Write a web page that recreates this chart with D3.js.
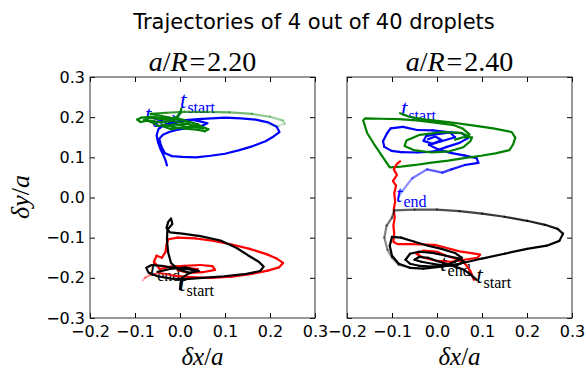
<!DOCTYPE html>
<html><head><meta charset="utf-8">
<script src="https://cdn.jsdelivr.net/npm/d3@7"></script>
<style>body{margin:0;background:#fff}svg{display:block}</style>
</head><body><svg id="c" width="586" height="372"></svg>
<script>
const titleText = "Trajectories of 4 out of 40 droplets";
const panelRatios = ["2.20", "2.40"];
const xTicks = [-0.2, -0.1, 0.0, 0.1, 0.2, 0.3];
const yTicks = [-0.3, -0.2, -0.1, 0.0, 0.1, 0.2, 0.3];

// panel a/R = 2.20
const L_blue = [[0.000,0.213],[-0.003,0.204],[-0.012,0.196],[-0.028,0.199],[-0.042,0.192],[-0.055,0.184],[-0.047,0.177],[-0.030,0.181],[-0.012,0.185],[0.008,0.190],[0.028,0.193],[0.047,0.189],[0.061,0.185],[0.050,0.179],[0.030,0.177],[0.012,0.172],[-0.008,0.168],[-0.024,0.163],[-0.038,0.156],[-0.046,0.146],[-0.043,0.133],[-0.039,0.121],[-0.033,0.110],[-0.018,0.103],[0.005,0.101],[0.035,0.100],[0.068,0.104],[0.100,0.109],[0.132,0.118],[0.162,0.128],[0.190,0.140],[0.208,0.152],[0.221,0.163],[0.215,0.176],[0.196,0.187],[0.168,0.194],[0.135,0.197],[0.100,0.199],[0.070,0.197],[0.040,0.195],[0.012,0.193],[-0.015,0.188],[-0.035,0.181],[-0.048,0.170],[-0.052,0.155],[-0.049,0.138],[-0.044,0.122],[-0.037,0.106],[-0.032,0.092],[-0.029,0.080]];
const L_green = [[0.003,0.222],[0.001,0.210],[-0.008,0.200],[-0.025,0.196],[-0.045,0.199],[-0.065,0.201],[-0.085,0.199],[-0.095,0.194],[-0.088,0.188],[-0.072,0.191],[-0.058,0.185],[-0.048,0.178],[-0.033,0.181],[-0.018,0.176],[0.000,0.173],[0.018,0.171],[0.038,0.169],[0.055,0.165],[0.063,0.170],[0.050,0.176],[0.032,0.179],[0.015,0.183],[-0.005,0.188],[-0.025,0.193],[-0.048,0.196],[-0.070,0.198],[-0.080,0.193],[-0.062,0.190],[-0.042,0.187],[-0.022,0.190],[-0.005,0.197],[0.008,0.193],[0.020,0.185],[0.005,0.180],[-0.015,0.182],[-0.035,0.176],[-0.020,0.170],[0.010,0.176],[0.035,0.175],[0.052,0.172],[0.040,0.182],[0.015,0.190],[-0.010,0.196],[-0.040,0.203],[-0.065,0.208],[-0.030,0.211],[0.010,0.213],[0.060,0.213],[0.110,0.212],[0.160,0.208],[0.200,0.201],[0.228,0.192],[0.233,0.184],[0.218,0.178],[0.195,0.180]];
const L_red = [[0.040,-0.178],[0.015,-0.176],[-0.005,-0.181],[0.020,-0.188],[0.050,-0.186],[0.078,-0.180],[0.072,-0.171],[0.045,-0.168],[0.010,-0.170],[-0.020,-0.172],[-0.045,-0.178],[-0.058,-0.160],[-0.052,-0.145],[-0.040,-0.150],[-0.032,-0.135],[-0.030,-0.118],[-0.026,-0.104],[-0.005,-0.100],[0.035,-0.102],[0.075,-0.108],[0.115,-0.117],[0.155,-0.128],[0.192,-0.141],[0.215,-0.152],[0.229,-0.163],[0.220,-0.174],[0.195,-0.182],[0.160,-0.190],[0.115,-0.197],[0.070,-0.200],[0.030,-0.199],[-0.010,-0.195],[-0.045,-0.188],[-0.065,-0.192],[-0.078,-0.200],[-0.083,-0.207]];
const L_black = [[0.000,-0.228],[0.001,-0.215],[0.004,-0.200],[0.018,-0.190],[0.036,-0.182],[0.015,-0.178],[-0.012,-0.176],[-0.040,-0.170],[-0.063,-0.168],[-0.075,-0.175],[-0.070,-0.187],[-0.050,-0.196],[-0.020,-0.202],[0.012,-0.203],[0.050,-0.200],[0.098,-0.196],[0.143,-0.191],[0.178,-0.183],[0.186,-0.172],[0.175,-0.160],[0.150,-0.143],[0.125,-0.125],[0.090,-0.107],[0.045,-0.096],[0.005,-0.090],[-0.022,-0.087],[-0.030,-0.076],[-0.026,-0.060],[-0.020,-0.052],[-0.017,-0.066],[-0.028,-0.080],[-0.029,-0.108],[-0.026,-0.138],[-0.020,-0.163],[-0.004,-0.179],[0.020,-0.187],[0.042,-0.183],[0.012,-0.174],[-0.022,-0.178],[-0.050,-0.185]];

// panel a/R = 2.40
const R_blue = [[-0.020,0.145],[-0.004,0.152],[0.010,0.143],[-0.010,0.134],[-0.030,0.141],[-0.024,0.153],[0.000,0.158],[0.030,0.162],[0.056,0.160],[0.069,0.148],[0.050,0.136],[0.022,0.126],[-0.009,0.114],[-0.044,0.112],[-0.080,0.113],[-0.101,0.116],[-0.117,0.126],[-0.120,0.140],[-0.111,0.160],[-0.103,0.172],[-0.076,0.176],[-0.044,0.168],[-0.009,0.167],[0.029,0.162],[0.040,0.150],[0.010,0.140],[-0.018,0.131],[0.002,0.120],[0.030,0.111],[0.060,0.105],[0.088,0.098],[0.092,0.086],[0.062,0.081],[0.032,0.070],[0.012,0.062],[-0.022,0.070],[-0.055,0.048],[-0.078,0.015],[-0.086,0.000]];
const R_green = [[-0.082,0.210],[-0.062,0.201],[-0.025,0.194],[0.025,0.188],[0.075,0.180],[0.125,0.172],[0.166,0.163],[0.174,0.149],[0.169,0.132],[0.161,0.118],[0.130,0.110],[0.098,0.104],[0.060,0.098],[0.025,0.092],[-0.012,0.087],[-0.048,0.081],[-0.080,0.077],[-0.105,0.075],[-0.114,0.090],[-0.126,0.110],[-0.141,0.135],[-0.155,0.160],[-0.164,0.192],[-0.160,0.197],[-0.125,0.196],[-0.085,0.195],[-0.045,0.192],[0.000,0.186],[0.038,0.180],[0.058,0.171],[0.072,0.157],[0.062,0.150],[0.072,0.152],[0.052,0.161],[0.012,0.163],[-0.038,0.156],[-0.068,0.142],[-0.072,0.128],[-0.052,0.118],[-0.012,0.112],[0.028,0.115],[0.058,0.125],[0.074,0.140],[0.078,0.150],[0.058,0.150],[0.040,0.144]];
const R_red = [[-0.082,0.090],[-0.089,0.084],[-0.096,0.070],[-0.089,0.056],[-0.098,0.041],[-0.091,0.030],[-0.095,0.010],[-0.093,-0.010],[-0.096,-0.030],[-0.094,-0.050],[-0.097,-0.070],[-0.095,-0.090],[-0.097,-0.110],[-0.088,-0.116],[-0.060,-0.116],[-0.030,-0.117],[-0.005,-0.118],[0.020,-0.125],[0.050,-0.134],[0.080,-0.139],[0.096,-0.142],[0.090,-0.150],[0.060,-0.155],[0.030,-0.160],[0.000,-0.158],[-0.030,-0.150],[-0.046,-0.140],[-0.030,-0.132],[0.000,-0.135],[0.020,-0.145],[0.040,-0.152],[0.060,-0.162],[0.074,-0.182],[0.082,-0.205]];
const R_black = [[0.088,-0.205],[0.075,-0.192],[0.060,-0.180],[0.040,-0.172],[0.020,-0.165],[0.000,-0.158],[-0.020,-0.150],[-0.040,-0.148],[-0.050,-0.155],[-0.035,-0.160],[-0.010,-0.165],[0.020,-0.170],[0.045,-0.168],[0.060,-0.160],[0.050,-0.152],[0.020,-0.145],[-0.010,-0.138],[-0.040,-0.135],[-0.060,-0.140],[-0.070,-0.155],[-0.060,-0.165],[-0.040,-0.170],[-0.010,-0.172],[0.020,-0.168],[0.040,-0.160],[0.055,-0.150],[0.040,-0.138],[0.010,-0.128],[-0.020,-0.120],[-0.050,-0.110],[-0.080,-0.100],[-0.100,-0.098],[-0.105,-0.120],[-0.100,-0.145],[-0.085,-0.165],[-0.060,-0.175],[-0.030,-0.177],[0.010,-0.172],[0.050,-0.165],[0.100,-0.152],[0.150,-0.140],[0.200,-0.128],[0.244,-0.120],[0.272,-0.108],[0.280,-0.090],[0.268,-0.078],[0.240,-0.068],[0.200,-0.058],[0.150,-0.048],[0.100,-0.040],[0.050,-0.034],[0.000,-0.030],[-0.050,-0.030],[-0.095,-0.032],[-0.100,-0.050],[-0.112,-0.070],[-0.117,-0.100],[-0.110,-0.130],[-0.100,-0.150],[-0.085,-0.168],[-0.060,-0.175]];

// time labels: [kind, x, y]
const L_blueLabels = [["start", 0.000, 0.2225], ["end", -0.078, 0.1875]];
const L_blackLabels = [["end", -0.067, -0.195], ["start", -0.002, -0.2325]];
const R_blueLabels = [["start", -0.080, 0.2025], ["end", -0.091, -0.010]];
const R_blackLabels = [["end", 0.007, -0.1825], ["start", 0.087, -0.2125]];

const svg = d3.select("#c");
const y = d3.scaleLinear().domain([-0.3, 0.3]).range([318, 77]);
const panels = [
  {ratio: panelRatios[0], x: d3.scaleLinear().domain([-0.2, 0.3]).range([90, 315]), yLabels: true,
   traj: [[L_blue, "#0000ff", null], [L_green, "#008000", {from: 0.80, min: 0.12}], [L_red, "#ff0000", {from: 0.88, min: 0.3}], [L_black, "#000000", null]],
   labels: [[L_blueLabels, "#0000ff"], [L_blackLabels, "#000000"]]},
  {ratio: panelRatios[1], x: d3.scaleLinear().domain([-0.2, 0.3]).range([347, 572]), yLabels: false,
   traj: [[R_blue, "#0000ff", {from: 0.84, min: 0.3}], [R_green, "#008000", null], [R_red, "#ff0000", null], [R_black, "#000000", {from: 0.72, min: 0.35}]],
   labels: [[R_blueLabels, "#0000ff"], [R_blackLabels, "#000000"]]}
];

svg.append("text").attr("x", 314).attr("y", 29).attr("text-anchor", "middle")
  .attr("font-family", "DejaVu Sans").attr("font-size", 21).attr("fill", "#000").text(titleText);

const serif = "Liberation Serif";
const fmt = d3.format(".1f");

panels.forEach(p => {
  const x = p.x;
  const [x0, x1] = x.range();
  const g = svg.append("g");
  // time labels (under the lines)
  p.labels.forEach(([arr, col]) => {
    arr.forEach(([kind, lx, ly]) => {
      const t = g.append("text").attr("x", x(lx)).attr("y", y(ly)).attr("fill", col)
        .attr("font-family", serif).attr("font-size", 23);
      t.append("tspan").attr("font-style", "italic").text("t");
      t.append("tspan").attr("font-size", 16).attr("dy", 5).attr("dx", 1).text(kind);
    });
  });
  // trajectories
  p.traj.forEach(([pts, col, fade]) => {
    const n = pts.length - 1;
    const tg = g.append("g").attr("stroke", col).attr("stroke-width", 2.2).attr("fill", "none")
      .attr("stroke-linecap", "round").attr("stroke-linejoin", "round");
    if (!fade) {
      tg.append("path").attr("d", d3.line().x(d => x(d[0])).y(d => y(d[1]))(pts));
    } else {
      for (let i = 0; i < n; i++) {
        const t = i / (n - 1);
        let a = 1;
        if (t > fade.from) a = 1 - (1 - fade.min) * (t - fade.from) / (1 - fade.from);
        tg.append("line").attr("x1", x(pts[i][0])).attr("y1", y(pts[i][1]))
          .attr("x2", x(pts[i + 1][0])).attr("y2", y(pts[i + 1][1])).attr("stroke-opacity", a);
      }
    }
  });
  // axes
  const bottom = d3.axisBottom(x).tickValues(xTicks).tickSize(-5).tickSizeOuter(0).tickPadding(8).tickFormat(fmt);
  const top = d3.axisTop(x).tickValues(xTicks).tickSize(-5).tickSizeOuter(0).tickFormat("");
  const left = d3.axisLeft(y).tickValues(yTicks).tickSize(-5).tickSizeOuter(0).tickPadding(5).tickFormat(p.yLabels ? fmt : "");
  const right = d3.axisRight(y).tickValues(yTicks).tickSize(-5).tickSizeOuter(0).tickFormat("");
  const style = sel => {
    sel.selectAll("path").remove();
    sel.selectAll("line").attr("stroke", "#000");
    sel.selectAll("text").attr("font-family", "DejaVu Sans").attr("font-size", 16).attr("fill", "#000");
  };
  svg.append("g").attr("transform", `translate(0,318)`).call(bottom).call(style);
  svg.append("g").attr("transform", `translate(0,77)`).call(top).call(style);
  svg.append("g").attr("transform", `translate(${x0},0)`).call(left).call(style);
  svg.append("g").attr("transform", `translate(${x1},0)`).call(right).call(style);
  svg.append("rect").attr("x", x0).attr("y", 77).attr("width", x1 - x0).attr("height", 241)
    .attr("fill", "none").attr("stroke", "#333").attr("stroke-width", 1);
  // panel title
  const cx = (x0 + x1) / 2;
  const tt = svg.append("text").attr("x", cx).attr("y", 71).attr("text-anchor", "middle")
    .attr("font-family", serif).attr("font-size", 28).attr("fill", "#000");
  tt.append("tspan").attr("font-style", "italic").text("a");
  tt.append("tspan").text("/");
  tt.append("tspan").attr("font-style", "italic").text("R");
  tt.append("tspan").attr("dx", 2).text("=");
  tt.append("tspan").attr("dx", 2).text(p.ratio);
  // x label
  const xl = svg.append("text").attr("x", cx).attr("y", 365).attr("text-anchor", "middle")
    .attr("font-family", serif).attr("font-size", 25).attr("fill", "#000");
  xl.append("tspan").attr("font-style", "italic").text("δx");
  xl.append("tspan").text("/");
  xl.append("tspan").attr("font-style", "italic").text("a");
});

const yl = svg.append("text").attr("transform", "translate(29,197) rotate(-90)").attr("text-anchor", "middle")
  .attr("font-family", serif).attr("font-size", 26).attr("fill", "#000");
yl.append("tspan").attr("font-style", "italic").text("δy");
yl.append("tspan").text("/");
yl.append("tspan").attr("font-style", "italic").text("a");
</script></body></html>
